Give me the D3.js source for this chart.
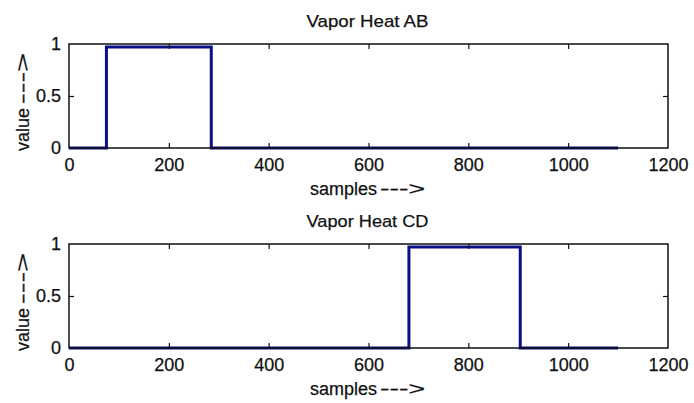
<!DOCTYPE html>
<html>
<head>
<meta charset="utf-8">
<script src="https://cdn.jsdelivr.net/npm/d3@7"></script>
<style>
  html, body { margin: 0; padding: 0; background: #fff; }
  svg { display: block; }
  text { font-family: "Liberation Sans", Arial, Helvetica, sans-serif; fill: #111; stroke: #111; stroke-width: 0.25px; }
</style>
</head>
<body>
<script>
// ---- data ----
const titles = ["Vapor Heat AB", "Vapor Heat CD"];
const xTicks = [0, 200, 400, 600, 800, 1000, 1200];
const yTicks = [0, 0.5, 1];
const yTickLabels = ["0", "0.5", "1"];
const abSamples = [0, 75, 285, 1100];
const abValues  = [0, 0.97, 0, 0];
const cdSamples = [0, 681, 904, 1100];
const cdValues  = [0, 0.97, 0, 0];
const xLabel = "samples";
const yLabel = "value";
const arrow = "--->";

const W = 694, H = 403;
const svg = d3.select("body").append("svg").attr("width", W).attr("height", H);

const panels = [
  { title: titles[0], xs: abSamples, ys: abValues, top: 44 },
  { title: titles[1], xs: cdSamples, ys: cdValues, top: 244 }
];
const left = 69, right = 668, ph = 104;
const fs = "18px";

const x = d3.scaleLinear().domain([0, 1200]).range([left, right]);

panels.forEach(p => {
  const y = d3.scaleLinear().domain([0, 1]).range([p.top + ph, p.top]);
  const g = svg.append("g");

  // data line
  const pts = p.xs.map((v, i) => [v, p.ys[i]]);
  g.append("path")
    .datum(pts)
    .attr("fill", "none")
    .attr("stroke", "#0a0f86")
    .attr("stroke-width", 3)
    .attr("d", d3.line().x(d => x(d[0])).y(d => y(d[1])).curve(d3.curveStepAfter));

  // axes (inward ticks)
  const tl = 5;
  const bottomAx = g.append("g").attr("transform", `translate(0,${p.top + ph})`)
    .call(d3.axisBottom(x).tickValues(xTicks).tickSize(-tl).tickPadding(10).tickFormat(d3.format("d")));
  const topAx = g.append("g").attr("transform", `translate(0,${p.top})`)
    .call(d3.axisTop(x).tickValues(xTicks).tickSize(-tl).tickFormat(""));
  const leftAx = g.append("g").attr("transform", `translate(${left},0)`)
    .call(d3.axisLeft(y).tickValues(yTicks).tickSize(-tl).tickPadding(8).tickFormat((d, i) => yTickLabels[i]));
  const rightAx = g.append("g").attr("transform", `translate(${right},0)`)
    .call(d3.axisRight(y).tickValues(yTicks).tickSize(-tl).tickFormat(""));

  [bottomAx, topAx, leftAx, rightAx].forEach(a => {
    a.select(".domain").remove();
    a.selectAll("line").attr("stroke", "#111").attr("stroke-width", 1.2);
    a.selectAll("text").style("font-size", fs).attr("fill", "#111")
      .style("font-family", '"Liberation Sans", Arial, sans-serif');
  });
  bottomAx.selectAll(".tick").filter(d => d === 0 || d === 1200).select("line").remove();
  topAx.selectAll(".tick").filter(d => d === 0 || d === 1200).select("line").remove();
  leftAx.selectAll(".tick").filter(d => d === 0 || d === 1).select("line").remove();
  rightAx.selectAll(".tick").filter(d => d === 0 || d === 1).select("line").remove();

  // frame
  g.append("rect")
    .attr("x", left).attr("y", p.top)
    .attr("width", right - left).attr("height", ph)
    .attr("fill", "none").attr("stroke", "#111").attr("stroke-width", 1.5);

  // title
  g.append("text")
    .attr("x", (left + right) / 2 - 1).attr("y", p.top - 17)
    .attr("text-anchor", "middle")
    .style("font-size", "17px")
    .attr("textLength", 122).attr("lengthAdjust", "spacingAndGlyphs")
    .text(p.title);

  // x label
  const xl = g.append("text")
    .attr("x", 310).attr("y", p.top + ph + 47)
    .style("font-size", fs);
  xl.append("tspan").text(xLabel + " ");
  xl.append("tspan").attr("x", 380).attr("textLength", 45).attr("lengthAdjust", "spacingAndGlyphs").text(arrow);

  // y label
  const cy = p.top + ph / 2 + 4;
  const yl = g.append("text")
    .attr("transform", `translate(29,${cy}) rotate(-90)`)
    .style("font-size", fs);
  yl.append("tspan").attr("x", -51).text(yLabel + " ");
  yl.append("tspan").attr("x", -4).attr("textLength", 51).attr("lengthAdjust", "spacingAndGlyphs").text(arrow);
});
</script>
</body>
</html>
